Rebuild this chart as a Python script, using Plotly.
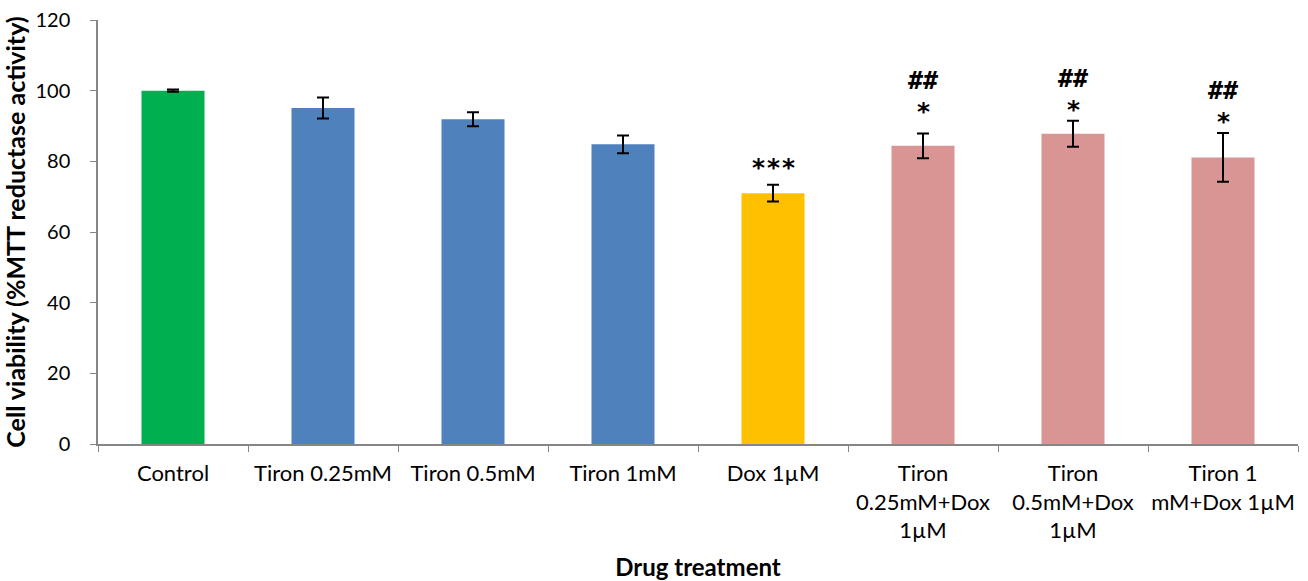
import plotly.graph_objects as go

# Treatment groups (x axis), mean viability and error (SEM)
categories = [
    "Control",
    "Tiron 0.25mM",
    "Tiron 0.5mM",
    "Tiron 1mM",
    "Dox 1µM",
    "Tiron<br>0.25mM+Dox<br>1µM",
    "Tiron<br>0.5mM+Dox<br>1µM",
    "Tiron 1<br>mM+Dox 1µM",
]
viability = [100.0, 95.1, 91.9, 84.8, 71.0, 84.4, 87.8, 81.1]
error = [0.3, 3.0, 2.0, 2.5, 2.4, 3.5, 3.7, 6.9]
# significance vs control (*) and vs Dox alone (#)
stars = ["", "", "", "", "***", "*", "*", "*"]
hashes = ["", "", "", "", "", "##", "##", "##"]

bar_colors = ["#00B050", "#4F81BD", "#4F81BD", "#4F81BD",
              "#FFC000", "#D99594", "#D99594", "#D99594"]

# pixel gap between top of error bar and the star mark
star_gap = [0, 0, 0, 0, 19, 24, 13, 14]
HASH_ABOVE_STAR = 29

FONT = "Lato, 'Open Sans', sans-serif"
MARK_FONT = "'DejaVu Sans Mono', 'Liberation Mono', monospace"
AXIS_GREY = "#868686"

fig = go.Figure()
fig.add_trace(go.Bar(
    x=categories,
    y=viability,
    width=0.42,
    marker=dict(color=bar_colors, line=dict(width=0)),
    error_y=dict(type="data", array=error, visible=True,
                 color="black", thickness=2, width=6),
    hoverinfo="x+y",
))

# significance marks above each error bar
for cat, v, e, s, h, g in zip(categories, viability, error, stars, hashes, star_gap):
    if s:
        fig.add_annotation(
            x=cat, y=v + e, text=s, showarrow=False,
            xref="x", yref="y", yanchor="middle", yshift=g - 2,
            font=dict(family=MARK_FONT, size=25, color="black", weight="bold"),
        )
    if h:
        fig.add_annotation(
            x=cat, y=v + e, text=h, showarrow=False,
            xref="x", yref="y", yanchor="middle", yshift=g + HASH_ABOVE_STAR,
            font=dict(family=MARK_FONT, size=25, color="black", weight="bold"),
        )

fig.update_layout(
    width=1308, height=581,
    margin=dict(l=98, r=10, t=20, b=137),
    paper_bgcolor="white", plot_bgcolor="white",
    showlegend=False,
    font=dict(family=FONT, color="black"),
)
fig.update_xaxes(
    automargin=False,
    showline=True, linecolor=AXIS_GREY, linewidth=1.5,
    ticks="outside", tickson="boundaries", ticklen=6, tickcolor=AXIS_GREY,
    tickfont=dict(family=FONT, size=22, color="black"),
    tickangle=0, ticklabelstandoff=9,
    title=dict(text="<b>Drug treatment</b>",
               font=dict(family=FONT, size=24, color="black"), standoff=18),
    showgrid=False,
)
fig.update_yaxes(
    automargin=False,
    range=[0, 120], dtick=20,
    showline=True, linecolor=AXIS_GREY, linewidth=1.5,
    ticks="outside", ticklen=6, tickcolor=AXIS_GREY,
    tickfont=dict(family=FONT, size=20, color="black"),
    ticklabelstandoff=16,
    title=dict(text="<b>Cell viability (%MTT reductase activity)</b>",
               font=dict(family=FONT, size=25, color="black"), standoff=3),
    showgrid=False, zeroline=False,
)

fig.write_html("out.html")
